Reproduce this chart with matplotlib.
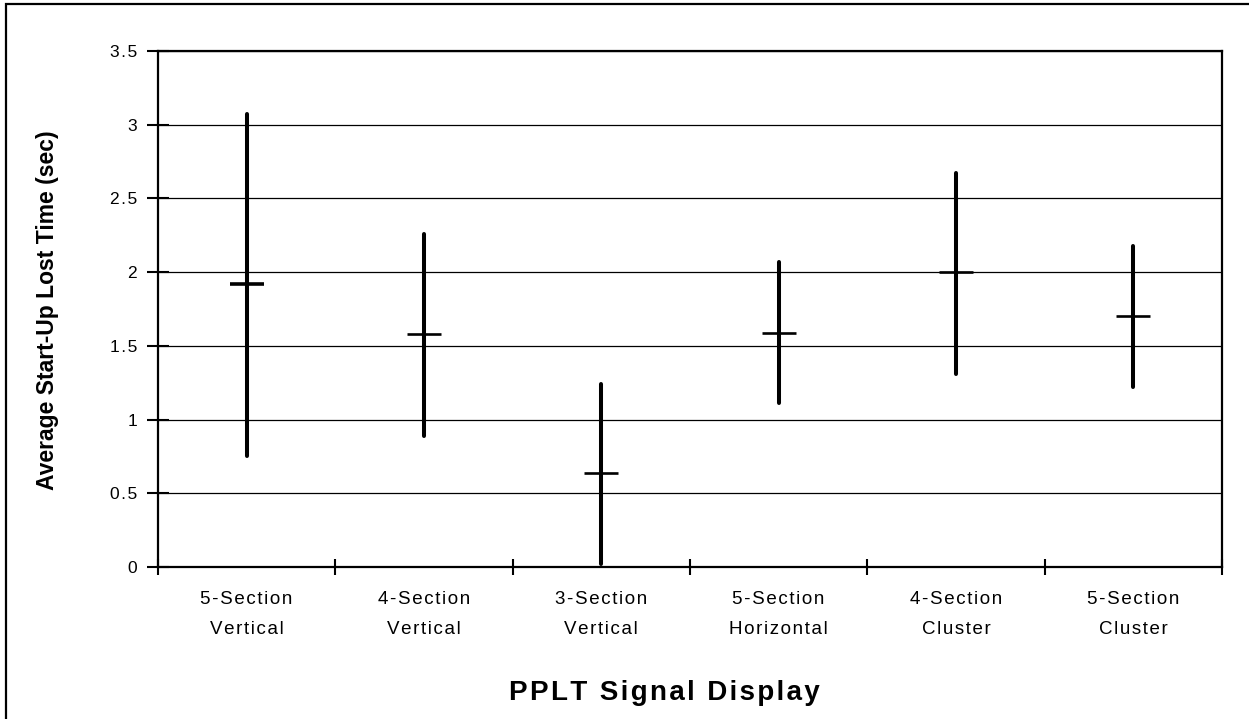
import matplotlib
matplotlib.use("Agg")
import matplotlib.pyplot as plt
from matplotlib.patches import Rectangle
from matplotlib.ticker import FuncFormatter

# Data
categories = ["5-Section\nVertical", "4-Section\nVertical", "3-Section\nVertical",
              "5-Section\nHorizontal", "4-Section\nCluster", "5-Section\nCluster"]
high = [3.07, 2.26, 1.24, 2.07, 2.67, 2.18]
low = [0.75, 0.89, 0.02, 1.11, 1.31, 1.22]
mean = [1.92, 1.58, 0.64, 1.59, 2.00, 1.70]

plt.rcParams['font.family'] = ['Liberation Sans', 'DejaVu Sans']


def spaced(s, sp='\u200a'):
    # the original uses letter spacing, fake it with hair spaces
    return '\n'.join(sp.join(line) for line in s.split('\n'))


fig = plt.figure(figsize=(12.49, 7.19), dpi=100)
ax = fig.add_axes([158/1249, 1 - 567/719, (1222-158)/1249, (567-51)/719])

x = list(range(len(categories)))

# high-low range lines
for xi, lo, hi in zip(x, low, high):
    ax.plot([xi, xi], [lo, hi], color='black', lw=2.9, solid_capstyle='round', zorder=3)

# mean markers
mean_lw = [2.6, 1.9, 1.9, 1.9, 1.9, 1.9]
for xi, m, lw in zip(x, mean, mean_lw):
    ax.plot([xi], [m], marker='_', markersize=24, markeredgewidth=lw,
            color='black', linestyle='none', zorder=4)

ax.set_xlim(-0.5, len(categories) - 0.5)
ax.set_ylim(0, 3.5)

# y axis
ax.set_yticks([0, 0.5, 1, 1.5, 2, 2.5, 3, 3.5])
ax.yaxis.set_major_formatter(FuncFormatter(lambda v, p: spaced('%g' % v)))
ax.tick_params(axis='y', direction='inout', length=16, width=1.5, labelsize=12.5, pad=7)
ax.yaxis.grid(True, color='black', linewidth=0.9)
ax.set_axisbelow(True)

# x axis: ticks on category boundaries, labels centred on categories
ax.set_xticks([i - 0.5 for i in range(len(categories) + 1)])
ax.set_xticklabels([])
ax.set_xticks(x, minor=True)
ax.set_xticklabels([spaced(c) for c in categories], minor=True, fontsize=13.5, linespacing=2.0)
ax.tick_params(axis='x', which='major', direction='inout', length=11, width=1.5)
ax.tick_params(axis='x', which='minor', length=0, pad=17)

for s in ax.spines.values():
    s.set_linewidth(1.6)
    s.set_color('black')

fig.text(664/1249, 1 - 693/719, spaced("PPLT Signal Display"), ha='center', va='center',
         fontsize=20, fontweight='bold')
fig.text(48/1249, 1 - 310/719, "Average Start-Up Lost Time (sec)", ha='center',
         va='center', rotation=90, fontsize=16.5, fontweight='bold')

# outer chart border
fig.patches.append(Rectangle((6/1249, -0.1), 1.2, 1.1 - 4/719, transform=fig.transFigure,
                             fill=False, edgecolor='black', linewidth=1.6))

fig.savefig("out.png", dpi=100)
